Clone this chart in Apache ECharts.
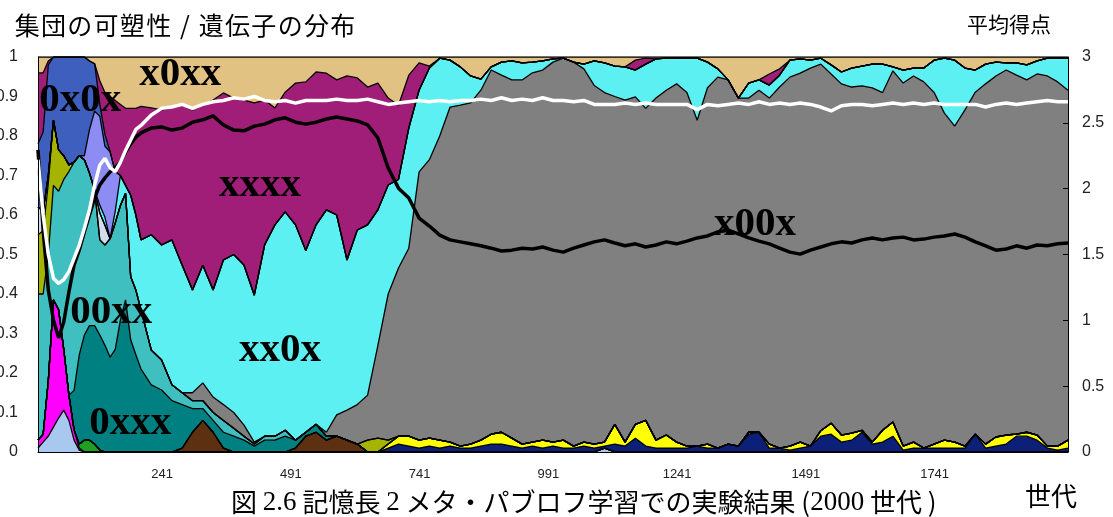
<!DOCTYPE html>
<html>
<head>
<meta charset="utf-8">
<script src="https://cdn.jsdelivr.net/npm/echarts@6/dist/echarts.min.js"></script>
<style>
  html, body { margin: 0; padding: 0; background: #fff; }
  #chart { width: 1113px; height: 517px; }
</style>
</head>
<body>
<div id="chart"></div>
<script>
// Generation sampled for every column of the distribution (step 10 up to 200, then 20)
const gens = [
  0, 10, 20, 30, 40, 50, 60, 70, 80, 90, 100,
  110, 120, 130, 140, 150, 160, 170, 180, 190, 200,
  220, 240, 260, 280, 300, 320, 340, 360, 380, 400,
  420, 440, 460, 480, 500, 520, 540, 560, 580, 600,
  620, 640, 660, 680, 700, 720, 740, 760, 780, 800,
  820, 840, 860, 880, 900, 920, 940, 960, 980, 1000,
  1020, 1040, 1060, 1080, 1100, 1120, 1140, 1160, 1180, 1200,
  1220, 1240, 1260, 1280, 1300, 1320, 1340, 1360, 1380, 1400,
  1420, 1440, 1460, 1480, 1500, 1520, 1540, 1560, 1580, 1600,
  1620, 1640, 1660, 1680, 1700, 1720, 1740, 1760, 1780, 1800,
  1820, 1840, 1860, 1880, 1900, 1920, 1940, 1960, 1980, 2000
];

const xTickLabels = [241, 491, 741, 991, 1241, 1491, 1741];

// Share of each gene type in the population (bottom of the stack first)
const sharePale = [
  .01,.025,.04,.063,.086,.106,.08,.03,.005,0,0,
  0,0,0,0,0,0,0,0,0,0,
  0,0,0,0,0,0,0,0,0,0,  0,0,0,0,0,0,0,0,0,0,
  0,0,0,0,0,0,0,0,0,0,  0,0,0,0,0,0,0,0,0,0,
  0,0,0,0,.01,0,0,0,0,0, 0,0,0,0,0,0,0,0,0,0,
  0,0,0,0,0,0,0,0,0,0,  0,0,0,0,0,0,0,0,0,0,
  0,0,0,0,0,0,0,0,0,0
];
const shareMagenta = [
  .02,.02,.14,.322,.274,.154,.064,.026,.005,0,0,
  0,0,0,0,0,0,0,0,0,0,
  0,0,0,0,0,0,0,0,0,0,  0,0,0,0,0,0,0,0,0,0,
  0,0,0,0,0,0,0,0,0,0,  0,0,0,0,0,0,0,0,0,0,
  0,0,0,0,0,0,0,0,0,0,  0,0,0,0,0,0,0,0,0,0,
  0,0,0,0,0,0,0,0,0,0,  0,0,0,0,0,0,0,0,0,0,
  0,0,0,0,0,0,0,0,0,0
];
const shareGreen = [
  0,0,0,0,0,0,0,0,.01,.03,.03,
  .02,.005,0,0,0,0,0,0,0,0,
  0,0,0,0,0,0,0,0,0,0,  0,0,0,0,0,0,0,0,0,0,
  0,0,0,0,0,0,0,0,0,0,  0,0,0,0,0,0,0,0,0,0,
  0,0,0,0,0,0,0,0,0,0,  0,0,0,0,0,0,0,0,0,0,
  0,0,0,0,0,0,0,0,0,0,  0,0,0,0,0,0,0,0,0,0,
  0,0,0,0,0,0,0,0,0,0
];
const shareBrown = [
  0,0,0,0,0,0,0,0,0,0,0,
  0,0,0,0,0,0,0,0,0,0,
  0,0,0,.01,.05,.08,.05,.01,0,0,
  0,0,0,0,.01,.04,.05,.03,.04,.03,
  .02,0,0,0,0,0,0,0,0,0,
  0,0,0,0,0,0,0,0,0,0,  0,0,0,0,0,0,0,0,0,0,
  0,0,0,0,0,0,0,0,0,0,  0,0,0,0,0,0,0,0,0,0,
  0,0,0,0,0,0,0,0,0,0,  0,0,0,0,0,0,0,0,0,0
];
const shareNavy = [
  0,0,0,0,0,0,0,0,0,0,0,
  0,0,0,0,0,0,0,0,0,0,
  0,0,0,0,0,0,0,0,0,0,
  0,0,0,0,0,0,0,0,0,0,
  0,0,0,.01,.02,.015,.01,.015,.01,.015,
  .01,.01,.015,.02,.02,.015,.01,.015,.01,.015,
  .01,.01,.015,.01,.005,.02,.015,.035,.015,.01,
  .01,.01,.01,.015,.01,.01,.02,.015,.045,.05,
  .01,.01,.005,.01,.015,.04,.045,.025,.03,.05,
  .02,.025,.04,.005,.01,.01,.01,.01,.01,.01,
  .045,.01,.015,.02,.04,.04,.03,.01,.005,.01
];
const shareYellow = [
  0,0,0,0,0,0,0,0,0,0,0,
  0,0,0,0,0,0,0,0,0,0,
  0,0,0,0,0,0,0,0,0,0,
  0,0,0,0,0,0,0,0,0,0,
  0,0,0,.01,.02,.025,.02,.02,.02,.01,
  .005,.01,.015,.025,.03,.02,.01,.01,.02,.01,
  .02,.005,.01,.01,.01,.05,.01,.035,.065,.02,
  .033,.015,.005,0,.01,0,0,0,.005,0,
  .01,0,.01,.015,0,.014,.028,.018,.018,.005,
  .005,.03,.036,.01,.015,0,.01,.02,.015,.005,
  0,.01,.023,.023,.005,.01,.013,.005,.01,.02
];
const share0xxx = [
  0,0,0,0,0,0,0,.10,.225,.266,.29,
  .30,.291,.27,.24,.26,.334,.385,.284,.246,.21,
  .17,.157,.13,.11,.06,.03,.03,.04,.04,.03,
  .015,.03,.03,.04,.02,.01,.02,.01,0,0,
  0,0,0,0,0,0,0,0,0,0,  0,0,0,0,0,0,0,0,0,0,
  0,0,0,0,0,0,0,0,0,0,  0,0,0,0,0,0,0,0,0,0,
  0,0,0,0,0,0,0,0,0,0,  0,0,0,0,0,0,0,0,0,0,
  0,0,0,0,0,0,0,0,0,0
];
const share00xx = [
  .37,.355,.32,.29,.30,.43,.566,.578,.505,.444,.386,
  .343,.241,.254,.30,.32,.29,.27,.16,.164,.15,
  .088,.076,.04,.03,.02,.02,.02,.03,.02,.01,
  .005,.01,.01,.015,0,0,0,0,0,0,
  0,0,0,0,0,0,0,0,0,0,  0,0,0,0,0,0,0,0,0,0,
  0,0,0,0,0,0,0,0,0,0,  0,0,0,0,0,0,0,0,0,0,
  0,0,0,0,0,0,0,0,0,0,  0,0,0,0,0,0,0,0,0,0,
  0,0,0,0,0,0,0,0,0,0
];
const shareOlive = [
  .15,.16,.18,.165,.105,.06,.017,0,0,0,0,
  0,0,0,0,0,0,0,0,0,0,
  0,0,0,0,0,0,0,0,0,0,  0,0,0,0,0,0,0,0,0,0,
  0,.03,.035,.01,0,0,0,0,0,0,
  0,0,0,0,0,0,0,0,0,0,  0,0,0,0,0,0,0,0,0,0,
  0,0,0,0,0,0,0,0,0,0,  0,0,0,0,0,0,0,0,0,0,
  0,0,0,0,0,0,0,0,0,0,  0,0,0,0,0,0,0,0,0,0
];
const shareSilver = [
  .07,.05,.02,0,0,0,0,0,0,0,0,
  0,.068,.05,0,0,0,0,0,0,0,
  0,0,0,0,0,0,0,0,0,0,  0,0,0,0,0,0,0,0,0,0,
  0,0,0,0,0,0,0,0,0,0,  0,0,0,0,0,0,0,0,0,0,
  0,0,0,0,0,0,0,0,0,0,  0,0,0,0,0,0,0,0,0,0,
  0,0,0,0,0,0,0,0,0,0,  0,0,0,0,0,0,0,0,0,0,
  0,0,0,0,0,0,0,0,0,0
];
const sharex00x = [
  0,0,0,0,0,0,0,0,0,0,0,
  0,0,0,0,0,0,0,0,0,0,
  0,0,0,0,.02,.045,.039,.04,.04,.028,
  .005,0,0,0,0,0,0,.01,.054,.076,
  .10,.114,.235,.37,.426,.476,.679,.705,.77,.848,
  .863,.864,.886,.922,.904,.907,.922,.935,.937,.962,
  .967,.972,.945,.908,.885,.83,.866,.829,.79,.866,
  .873,.907,.895,.825,.902,.939,.922,.881,.846,.866,
  .876,.914,.934,.934,.957,.928,.884,.889,.876,.872,
  .897,.855,.889,.919,.927,.927,.89,.828,.80,.851,
  .866,.912,.914,.924,.909,.892,.914,.937,.922,.886
];
const sharexx0x = [
  0,0,0,0,0,0,0,0,0,0,0,
  0,.02,.02,0,.03,.076,.02,.206,.19,.177,
  .292,.291,.367,.323,.26,.298,.271,.366,.40,.405,
  .372,.484,.535,.553,.545,.46,.505,.563,.506,.38,
  .442,.431,.343,.276,.224,.304,.207,.232,.197,.119,
  .097,.068,.028,.008,.033,.048,.043,.027,.023,.008,
  0,0,.012,.062,.075,.077,.084,.068,.112,.099,
  .081,.065,.087,.157,.065,.021,0,0,.038,.026,
  .033,.03,.043,.036,.02,.015,.023,.03,.048,.05,
  .06,.072,.01,.033,.02,.035,.082,.139,.167,.106,
  .056,.05,.035,.018,.031,.038,.033,.045,.06,.081
];
const shareLavender = [
  0,0,0,0,0,0,0,0,0,.01,.11,
  .20,.225,.18,.22,.10,0,0,0,0,0,
  0,0,0,0,0,0,0,0,0,0,  0,0,0,0,0,0,0,0,0,0,
  0,0,0,0,0,0,0,0,0,0,  0,0,0,0,0,0,0,0,0,0,
  0,0,0,0,0,0,0,0,0,0,  0,0,0,0,0,0,0,0,0,0,
  0,0,0,0,0,0,0,0,0,0,  0,0,0,0,0,0,0,0,0,0,
  0,0,0,0,0,0,0,0,0,0
];
const share0x0x = [
  .16,.20,.28,.16,.235,.25,.273,.266,.25,.25,.174,
  .12,.03,.03,0,0,0,0,0,0,0,
  0,0,0,0,0,0,0,0,0,0,  0,0,0,0,0,0,0,0,0,0,
  0,0,0,0,0,0,0,0,0,0,  0,0,0,0,0,0,0,0,0,0,
  0,0,0,0,0,0,0,0,0,0,  0,0,0,0,0,0,0,0,0,0,
  0,0,0,0,0,0,0,0,0,0,  0,0,0,0,0,0,0,0,0,0,
  0,0,0,0,0,0,0,0,0,0
];
const sharexxxx = [
  .18,.15,.01,0,0,0,0,0,0,0,0,
  0,.06,.106,.14,.18,.18,.195,.22,.27,.338,
  .321,.342,.334,.405,.456,.405,.481,.423,.396,.418,
  .487,.367,.296,.303,.359,.427,.387,.346,.342,.466,
  .385,.349,.321,.22,.188,.134,.069,.005,0,0,
  0,0,0,0,0,0,0,0,0,0,
  0,0,0,0,0,0,0,.025,.015,0,
  0,0,0,0,0,0,0,0,0,0,
  .028,.016,0,0,0,0,0,0,0,0,
  0,0,0,0,0,0,0,0,0,0,
  0,0,0,0,0,0,0,0,0,0
];
const sharex0xx = [
  .04,.04,.01,0,0,0,0,0,0,0,.01,
  .017,.06,.09,.10,.11,.12,.13,.13,.13,.125,
  .129,.134,.129,.122,.134,.122,.109,.091,.104,.109,
  .116,.109,.129,.089,.066,.063,.038,.041,.058,.048,
  .053,.076,.066,.104,.122,.046,.015,.023,.003,.008,
  .025,.048,.056,.025,.013,.01,.015,.013,.01,.005,
  .003,.013,.018,.01,.015,.023,.025,.008,.003,.005,
  .003,.003,.003,.003,.013,.03,.058,.104,.066,.058,
  .043,.03,.008,.005,.008,.003,.02,.038,.028,.023,
  .018,.018,.025,.033,.028,.028,.008,.003,.008,.028,
  .033,.018,.013,.015,.015,.02,.01,.003,.003,.003
];

// Plasticity of the population (left axis)
const plasticity = [
  .765,.562,.41,.334,.289,.329,.405,.473,.511,.557,.60,
  .643,.676,.694,.709,.719,.734,.759,.78,.797,.808,
  .82,.823,.815,.82,.835,.841,.851,.828,.815,.813,
  .825,.83,.841,.846,.835,.83,.835,.843,.848,.843,
  .838,.828,.795,.719,.668,.643,.592,.572,.549,.537,
  .532,.527,.522,.516,.509,.511,.516,.514,.519,.511,
  .506,.516,.524,.532,.537,.529,.522,.527,.519,.524,
  .532,.527,.534,.542,.547,.557,.562,.552,.542,.534,
  .527,.516,.506,.501,.511,.519,.527,.532,.529,.537,
  .542,.537,.542,.544,.537,.539,.544,.547,.552,.544,
  .532,.522,.511,.514,.522,.516,.524,.522,.527,.529
];

// Average score (right axis)
const avgScore = [
  2.22,1.80,1.50,1.32,1.28,1.31,1.37,1.47,1.57,1.70,1.84,
  2.03,2.18,2.23,2.16,2.13,2.20,2.29,2.37,2.45,2.48,
  2.56,2.61,2.62,2.64,2.61,2.64,2.66,2.67,2.69,2.68,
  2.70,2.67,2.66,2.67,2.65,2.67,2.67,2.67,2.68,2.67,
  2.67,2.68,2.66,2.64,2.65,2.66,2.67,2.66,2.67,2.66,
  2.67,2.67,2.68,2.67,2.69,2.67,2.68,2.67,2.69,2.67,
  2.67,2.66,2.67,2.64,2.64,2.64,2.65,2.64,2.65,2.64,
  2.64,2.64,2.64,2.60,2.64,2.63,2.64,2.65,2.64,2.66,
  2.64,2.65,2.64,2.65,2.64,2.62,2.59,2.63,2.64,2.64,
  2.63,2.64,2.65,2.64,2.65,2.64,2.65,2.64,2.64,2.64,
  2.64,2.62,2.64,2.65,2.64,2.65,2.66,2.67,2.66,2.66
];

// Layer order, bottom to top, with fill colours
const layers = [
  { name: 'pale',     data: sharePale,     color: '#a8c8f0' },
  { name: 'magenta',  data: shareMagenta,  color: '#ff00ff' },
  { name: 'green',    data: shareGreen,    color: '#20a020' },
  { name: 'brown',    data: shareBrown,    color: '#5c3010' },
  { name: 'navy',     data: shareNavy,     color: '#0c2078' },
  { name: 'yellow',   data: shareYellow,   color: '#ffff00' },
  { name: '0xxx',     data: share0xxx,     color: '#008080' },
  { name: '00xx',     data: share00xx,     color: '#3fbfbf' },
  { name: 'olive',    data: shareOlive,    color: '#a4b400' },
  { name: 'silver',   data: shareSilver,   color: '#d4dcec' },
  { name: 'x00x',     data: sharex00x,     color: '#808080' },
  { name: 'xx0x',     data: sharexx0x,     color: '#5cf0f2' },
  { name: 'lavender', data: shareLavender, color: '#8c8cf4' },
  { name: '0x0x',     data: share0x0x,     color: '#3f5fbf' },
  { name: 'xxxx',     data: sharexxxx,     color: '#a01e78' },
  { name: 'x0xx',     data: sharex0xx,     color: '#e2c283' }
];

// Where each gene-type name is printed, in generation / share units
const nameAnchors = [
  { name: 'x0xx', gen: 276,  share: 0.955 },
  { name: '0x0x', gen: 82,   share: 0.89 },
  { name: 'xxxx', gen: 431,  share: 0.676 },
  { name: 'x00x', gen: 1392, share: 0.575 },
  { name: '00xx', gen: 142,  share: 0.354 },
  { name: 'xx0x', gen: 470,  share: 0.258 },
  { name: '0xxx', gen: 179,  share: 0.073 }
];

const JP = '"Noto Sans CJK JP", "Noto Sans CJK SC", sans-serif';
const SANS = '"Liberation Sans", Arial, sans-serif';
const SERIF = '"Liberation Serif", "DejaVu Serif", serif';

const leftTitle = '集団の可塑性/遺伝子の分布';

const chart = echarts.init(document.getElementById('chart'), null, { renderer: 'canvas' });

// share first, generation second, so the stack accumulates the share dimension
const areaSeries = layers.map(function (layer) {
  return {
    name: layer.name,
    type: 'line',
    stack: 'distribution',
    encode: { x: 1, y: 0 },
    data: layer.data.map(function (v, i) { return [v, gens[i]]; }),
    symbol: 'none',
    showSymbol: false,
    silent: true,
    z: 2,
    lineStyle: { color: '#000', width: 1.3 },
    areaStyle: { color: layer.color, opacity: 1 }
  };
});

const option = {
  animation: false,
  backgroundColor: '#fff',
  title: [
    { text: Array.from(leftTitle).map(function (c) { return '{c|' + c + '}'; }).join(''),
      left: 9, top: 8,
      textStyle: { rich: { c: { fontFamily: JP, fontSize: 25, fontWeight: 'normal', color: '#000', width: 26.3, align: 'center' } } } },
    { text: '平均得点', left: 962, top: 9,
      textStyle: { fontFamily: JP, fontSize: 21, fontWeight: 'normal', color: '#000' } },
    { text: '世代', left: 1020, top: 478,
      textStyle: { fontFamily: JP, fontSize: 26, fontWeight: 'normal', color: '#000' } },
    { text: '{j|図 }{s|2.6}{j| 記憶長 }{s|2}{j| メタ・パブロフ学習での実験結果 (}{s|2000}{j| 世代 )}',
      left: 226, top: 484,
      textStyle: {
        fontWeight: 'normal',
        rich: {
          j: { fontFamily: JP, fontSize: 26, fontWeight: 'normal', color: '#000' },
          s: { fontFamily: SERIF, fontSize: 27, fontWeight: 'normal', color: '#000' }
        }
      } }
  ],
  grid: { left: 38, right: 45, top: 57, bottom: 65, show: false, outerBoundsMode: 'none', containLabel: false },
  xAxis: {
    type: 'value', min: 0, max: 2000, z: 10,
    axisLine: { show: true, lineStyle: { color: '#000', width: 1 } },
    axisTick: { show: false },
    splitLine: { show: false },
    axisLabel: { customValues: xTickLabels, formatter: function (v) { return String(v); },
                 fontFamily: SANS, fontSize: 13, color: '#222', margin: 16 }
  },
  yAxis: [
    {
      type: 'value', min: 0, max: 1, interval: 0.1, z: 10,
      axisLine: { show: true, lineStyle: { color: '#000', width: 1 } },
      axisTick: { show: false },
      splitLine: { show: false },
      axisLabel: { fontFamily: SANS, fontSize: 16, color: '#222', margin: 20 }
    },
    {
      type: 'value', min: 0, max: 3, interval: 0.5, position: 'right', z: 10,
      axisLine: { show: true, lineStyle: { color: '#000', width: 1 } },
      axisTick: { show: true, inside: true, length: 5, lineStyle: { color: '#000' } },
      splitLine: { show: false },
      axisLabel: { fontFamily: SANS, fontSize: 16, color: '#222', margin: 14 }
    }
  ],
  series: areaSeries.concat([
    {
      name: 'plasticity', type: 'line', yAxisIndex: 0, z: 5, silent: true,
      data: plasticity.map(function (v, i) { return [gens[i], v]; }),
      symbol: 'none', showSymbol: false,
      lineStyle: { color: '#000', width: 3.5 }
    },
    {
      name: 'avgScore', type: 'line', yAxisIndex: 1, z: 6, silent: true,
      data: avgScore.map(function (v, i) { return [gens[i], v]; }),
      symbol: 'none', showSymbol: false,
      lineStyle: { color: '#fff', width: 3.5 }
    },
    {
      name: 'typeNames', type: 'scatter', yAxisIndex: 0, z: 8, silent: true,
      symbolSize: 0,
      itemStyle: { opacity: 1 },
      data: nameAnchors.map(function (d) { return { name: d.name, value: [d.gen, d.share] }; }),
      label: {
        show: true, position: 'inside', formatter: '{b}', opacity: 1,
        fontFamily: SERIF, fontWeight: 'bold', fontSize: 41, color: '#000'
      }
    }
  ])
};

chart.setOption(option);
</script>
</body>
</html>
